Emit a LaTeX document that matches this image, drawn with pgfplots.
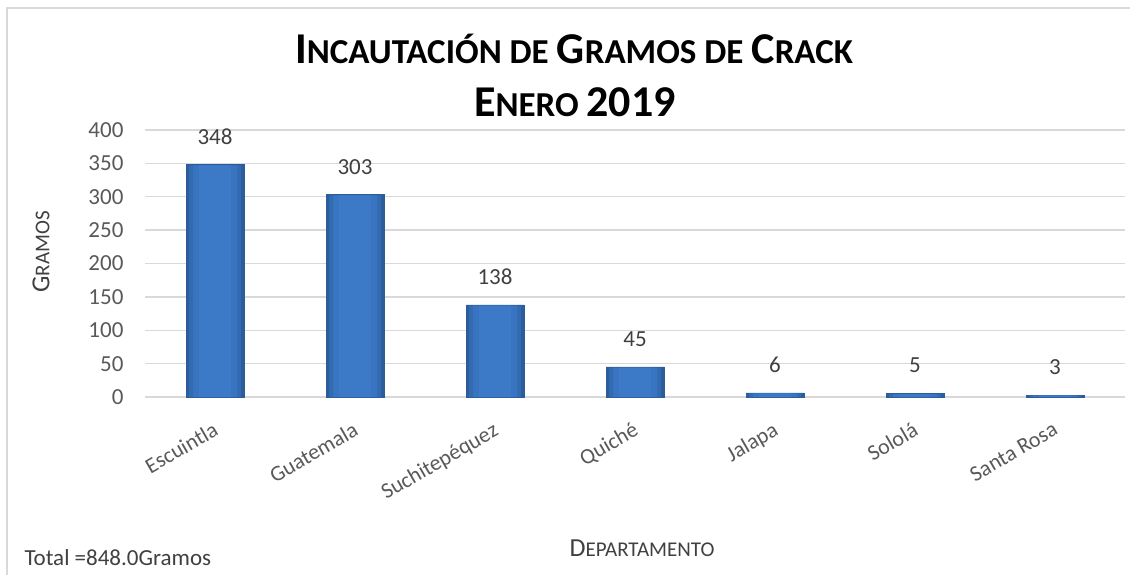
\documentclass[border=0pt]{standalone}
\usepackage{pgfplots}
\pgfplotsset{compat=1.18}
\usepackage{fontspec}
\setmainfont{Carlito}
\definecolor{txt}{HTML}{404040}
\definecolor{tickc}{HTML}{595959}
\definecolor{gridcol}{HTML}{D9D9D9}
\definecolor{barA}{HTML}{2D5C9A}
\definecolor{barB}{HTML}{336BB3}
\definecolor{barC}{HTML}{3874C0}
\definecolor{barD}{HTML}{3C7AC8}
\newcommand\TBig[1]{{\fontsize{44}{44}\selectfont #1}}
\newcommand\TSm[1]{{\fontsize{35}{35}\selectfont #1}}
\begin{document}
\begin{tikzpicture}[x=1pt,y=1pt]
\useasboundingbox (0,0) rectangle (1130,574);
\draw[gridcol,line width=1.2pt] (7,-5) -- (7,566) -- (1140,566);
% title
\node[font=\bfseries,text=black] at (574,525) {\TBig{I}\TSm{NCAUTACIÓN D}\TSm{E }\TBig{G}\TSm{RAMOS D}\TSm{E }\TBig{C}\TSm{RACK}};
\node[font=\bfseries,text=black] at (575,472) {\TBig{E}\TSm{NERO }\TBig{2019}};
\begin{axis}[
  at={(145pt,177pt)}, anchor=south west,
  scale only axis, width=980pt, height=267pt,
  xmin=-0.5, xmax=6.5, ymin=0, ymax=400,
  ybar, bar width=58pt,
  axis line style={draw=none},
  ytick={0,50,...,400},
  xtick={0,1,2,3,4,5,6},
  xticklabels={Escuintla,Guatemala,Suchitepéquez,Quiché,Jalapa,Sololá,Santa Rosa},
  ymajorgrids, xmajorgrids=false, grid style={draw=gridcol,line width=1.3pt},
  major tick length=0pt,
  /pgf/number format/assume math mode=true,
  yticklabel style={font=\fontsize{23}{23}\selectfont, text=tickc, xshift=-18pt},
  xticklabel style={font=\fontsize{22}{22}\selectfont, text=tickc, inner sep=0pt, xshift=-3pt, yshift=-24pt, rotate=30, anchor=north east},
  clip=false,
]
\addplot[draw=barA, line width=0.6pt, fill=barA, bar shift=0pt, bar width=58pt]
  coordinates {(0,348) (1,303) (2,138) (3,45) (4,6) (5,5) (6,3)};
\addplot[draw=none, fill=barB, bar shift=0pt, bar width=52pt]
  coordinates {(0,347) (1,302) (2,137) (3,44) (4,5.3) (5,4.3) (6,2.3)};
\addplot[draw=none, fill=barC, bar shift=0pt, bar width=44pt]
  coordinates {(0,347) (1,302) (2,137) (3,44) (4,5.3) (5,4.3) (6,2.3)};
\addplot[draw=none, fill=barD, bar shift=0pt, bar width=32pt,
  nodes near coords={\pgfplotspointmeta},
  point meta=explicit symbolic,
  every node near coord/.append style={font=\fontsize{23}{23}\selectfont, text=txt, inner sep=0pt, anchor=south, yshift=21pt}]
  coordinates {(0,347)[348] (1,302)[303] (2,137)[138] (3,44)[45] (4,5.3)[6] (5,4.3)[5] (6,2.3)[3]};
\end{axis}
\node[text=txt, rotate=90] at (41,322) {{\fontsize{26}{26}\selectfont G}{\fontsize{21}{21}\selectfont RAMOS}};
\node[text=txt] at (642,26) {{\fontsize{26}{26}\selectfont D}{\fontsize{21}{21}\selectfont EPARTAMENTO}};
\node[text=txt, anchor=base west, font=\fontsize{23}{23}\selectfont] at (21,9) {Total =848.0Gramos};
\end{tikzpicture}
\end{document}
